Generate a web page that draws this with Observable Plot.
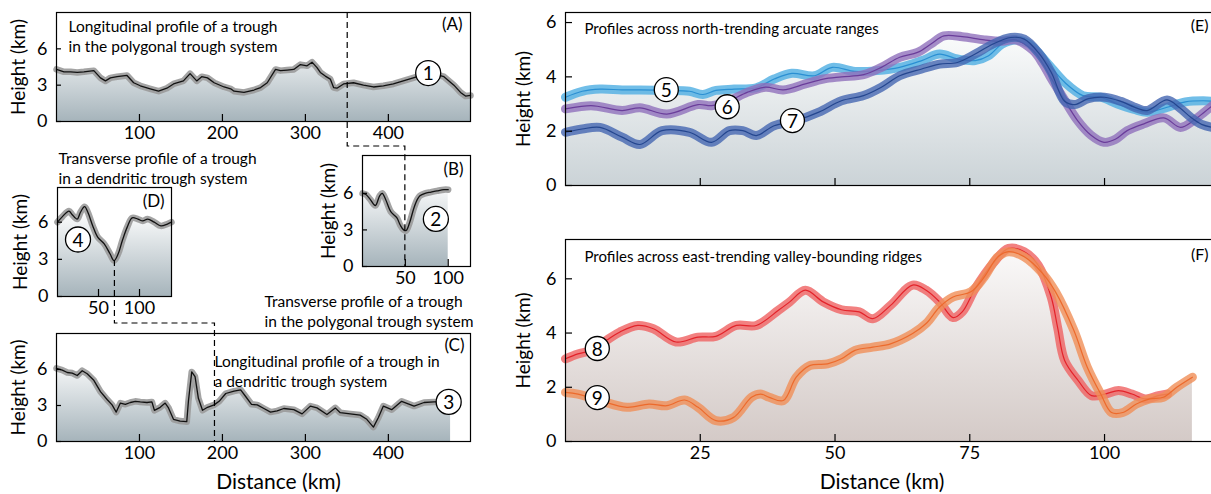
<!DOCTYPE html>
<html><head><meta charset="utf-8">
<script src="https://cdn.jsdelivr.net/npm/d3@7"></script>
<script src="https://cdn.jsdelivr.net/npm/@observablehq/plot@0.6"></script>
<style>
html,body{margin:0;padding:0;background:#fff;overflow:hidden;}
#fig{position:relative;width:1211px;height:494px;overflow:hidden;font-family:Lato,"Open Sans",sans-serif;}
</style></head><body><div id="fig"></div><script>
// ---------- data ----------
const distA = [0,9,17,25,33,45,53,59,65,73,85,93,101,113,123,133,141,153,161,169,175,182,190,202,210,214,226,238,246,254,264,270,278,286,294,302,308,314,318,324,330,334,338,346,358,370,382,394,406,418,435,451,467,479,487,493,499];
const heightA = [4.3,4.1,4.1,4.05,4.1,4.2,3.6,3.35,3.6,3.7,3.8,3.2,2.95,2.7,2.5,2.75,3.1,3.35,3.95,3.35,3.7,3.6,3.2,2.85,2.7,2.5,2.4,2.6,2.8,3.2,4.3,4.2,4.25,4.3,4.7,4.6,4.9,4.45,4.05,3.75,3.5,2.8,2.75,3.1,3.2,3.0,2.85,2.95,3.1,3.35,3.7,4.0,3.7,3.0,2.4,2.1,2.15];

const distB = [0,4,9,15,20,23,27,33,40,44,48,51,55,60,64,67,73,80,87,95,100];
const heightB = [6.0,5.9,5.5,5.0,5.8,6.0,5.5,4.5,4.0,3.4,3.0,2.95,3.6,4.8,5.5,5.8,6.0,6.1,6.2,6.3,6.3];

const distD = [0,6,14,18,24,28,33,37,43,49,57,64,69,74,79,85,91,98,104,110,118,126,134,139];
const heightD = [6.0,6.45,6.9,6.6,6.25,6.8,7.25,6.8,5.7,4.8,4.25,3.45,2.9,3.45,4.5,5.6,6.35,6.25,6.1,6.25,6.0,5.7,5.85,6.0];

const distC = [0,7,13,19,25,31,37,45,53,61,67,72,77,83,89,95,101,109,115,118,125,131,135,141,149,157,159,163,167,171,176,182,190,196,204,214,222,228,235,242,250,258,266,274,286,296,306,314,326,336,342,354,366,374,382,388,394,404,416,431,443,455,475];
const heightC = [6.1,5.95,5.75,5.7,5.5,5.9,5.65,5.1,4.15,3.5,3.05,2.45,3.2,3.1,3.25,3.35,3.3,3.25,3.3,2.6,2.85,3.2,2.8,1.85,1.7,1.65,3.35,5.8,5.4,3.6,2.6,2.85,3.05,3.35,4.0,4.2,4.3,3.75,3.1,3.05,2.75,2.45,2.55,2.75,2.65,2.3,2.95,2.8,2.25,2.8,2.4,2.3,2.2,1.85,1.2,2.0,2.95,2.65,3.35,2.95,3.25,3.3,3.3];

const dist5 = [0,3.1,6.4,10.5,13.8,18.8,23,25.5,27.9,31.3,35.4,38.7,42,46.2,49.5,53.7,57.8,62,66.1,69.4,72.7,76,78.5,81,83.5,86,89.3,92.6,96,99.3,102.4,105.5,107.9,111.6,115,118.3,120];
const height5 = [3.25,3.47,3.55,3.52,3.52,3.5,3.47,3.35,3.5,3.55,3.6,3.92,4.13,4.04,4.35,4.2,4.23,4.35,4.6,4.84,4.66,4.6,4.78,5.21,5.36,5.21,4.53,3.8,3.31,3.25,3.0,2.8,2.7,2.88,3.08,3.12,3.1];

const dist6 = [0,4.7,6.4,10.5,13.8,18.8,24.6,27.1,30.4,33.7,37.1,40.4,44.5,47.8,51.2,55.3,58.6,62,65.3,67.8,70.2,73.6,77.7,81,83.5,86.8,88.5,90,91.9,95,97.5,99.9,102,104.2,107.3,111,114.1,116.5,118.5,120];
const height6 = [2.82,2.94,2.9,2.76,2.86,2.63,2.98,2.94,3.12,3.43,3.62,3.52,3.74,3.92,4.0,4.08,4.35,4.72,4.9,5.21,5.51,5.48,5.36,5.31,5.36,4.96,4.5,3.98,3.37,2.39,1.85,1.59,1.7,2.02,2.27,2.49,2.14,2.39,2.7,2.94];

const dist7 = [0,3.1,6.4,10.5,13.8,17.9,23,27.1,30.4,32.9,35.4,38.7,42.8,47,51.2,55.3,58.6,62,66.1,69.4,72.7,76,79.3,82.6,85.1,87.7,90.1,92.6,94.5,97,100,103,106,107.9,111.6,114,116,118,120];
const height7 = [1.96,2.08,2.14,1.78,1.51,2.02,1.96,1.59,2.02,2.02,1.84,2.2,2.39,2.7,3.12,3.31,3.62,4.04,4.29,4.47,4.53,4.84,5.21,5.45,5.39,4.9,4.17,3.1,2.98,3.2,3.25,3.1,2.85,2.76,3.15,2.85,2.51,2.25,2.14];

const dist8 = [0,2.3,4.7,7.6,10.1,13.4,16.3,20.5,24.6,27.9,31.7,35.4,39.5,41.6,44.5,47.8,51.2,54.5,57,60.3,64.4,66.9,69.4,71.9,73.6,76,79.3,82.2,85.1,87.7,90.1,91.3,92.6,95.1,97.6,100.1,102.6,105.1,107.6,110,111.7];
const height8 = [3.05,3.23,3.36,3.73,4.04,4.28,4.16,3.67,3.85,3.88,4.28,4.28,4.84,5.15,5.58,5.15,4.86,4.78,4.53,5.02,5.77,5.58,5.15,4.57,4.78,5.64,6.57,7.12,7.0,6.5,5.33,4.2,2.99,2.25,1.69,1.75,1.88,1.75,1.57,1.69,1.75];

const dist9 = [0,2.3,6.4,11.4,15.5,18.8,22.1,24.6,27.9,31.2,34.5,36.2,37.8,40.4,42.8,45.3,48.6,51.2,53.7,57,60.3,64.4,66.9,69.4,71.9,75.2,77.7,80.2,82.2,85.1,88.5,90.9,94.3,96.8,99.3,101.3,103.4,105.9,108.4,110.9,113.4,116.3];
const height9 = [1.81,1.75,1.51,1.26,1.38,1.32,1.53,1.26,0.77,0.89,1.63,1.75,1.63,1.51,2.37,2.8,2.86,3.05,3.36,3.48,3.6,3.98,4.35,4.96,5.33,5.52,6.07,6.81,7.0,6.81,6.2,5.52,4.1,2.74,1.75,1.07,1.07,1.38,1.57,1.63,2.0,2.37];

const ticksLong = [100,200,300,400];
const ticksShort = [50,100];
const ticksY369 = [0,3,6];
const ticksEFx = [25,50,75,100];
const ticksEFy = [0,2,4,6];

const titleA = "Longitudinal profile of a trough\nin the polygonal trough system";
const titleB = "Transverse profile of a trough\nin the polygonal trough system";
const titleC = "Longitudinal profile of a trough in\na dendritic trough system";
const titleD = "Transverse profile of a trough\nin a dendritic trough system";
const titleE = "Profiles across north-trending arcuate ranges";
const titleF = "Profiles across east-trending valley-bounding ridges";
const yLabel = "Height (km)";
const xLabel = "Distance (km)";

// ---------- helpers ----------
const FONT = "Lato, 'Open Sans', sans-serif";
const rows = (xs, ys) => xs.map((x, i) => ({x, y: ys[i]}));
const fig = document.getElementById("fig");

function panel(cfg) {
  const fw = cfg.width - cfg.ml - cfg.mr, fh = cfg.height - cfg.mt - cfg.mb;
  const marks = [...cfg.marks,
    Plot.tickX(cfg.xTicks, {x: d => d, insetTop: fh - 7, stroke: "black", strokeWidth: 1.2}),
    Plot.tickY(cfg.yTicks, {y: d => d, insetRight: fw - (cfg.yTickLen || 5), stroke: "black", strokeWidth: 1.2}),
    Plot.axisY(cfg.yTicks, {tickSize: 0, tickPadding: cfg.yPad || 9, fontSize: 18, label: null}),
    Plot.text([yLabel], {frameAnchor: "left", dx: cfg.yLabelDx, rotate: -90, textAnchor: "middle", lineAnchor: "middle", fontSize: 19}),
    Plot.frame({stroke: "black", strokeWidth: 1.2}),
    ...(cfg.after || [])
  ];
  if (cfg.xLabels) marks.push(Plot.axisX(cfg.xTicks, {tickSize: 0, tickPadding: 5, fontSize: 18, label: null}));
  const svg = Plot.plot({
    width: cfg.width, height: cfg.height,
    marginLeft: cfg.ml, marginRight: cfg.mr, marginTop: cfg.mt, marginBottom: cfg.mb,
    x: {domain: cfg.xDomain, axis: null}, y: {domain: cfg.yDomain, axis: null},
    style: {background: "transparent", overflow: "visible", fontFamily: FONT, fontSize: "18px", color: "black"},
    marks
  });
  svg.style.position = "absolute";
  svg.style.left = cfg.left + "px";
  svg.style.top = cfg.top + "px";
  const ys = svg.scale("y");
  const g = cfg.grad;
  d3.select(svg).insert("defs", ":first-child").html(
    `<linearGradient id="${g.id}" gradientUnits="userSpaceOnUse" x1="0" x2="0" y1="${ys.apply(g.from)}" y2="${ys.apply(0)}">` +
    `<stop offset="0" stop-color="${g.c0}"/><stop offset="1" stop-color="${g.c1}"/></linearGradient>`);
  fig.appendChild(svg);
  svg._left = cfg.left; svg._top = cfg.top;
  return svg;
}

function greyProfile(data, gradId, curve) {
  return [
    Plot.areaY(data, {x: "x", y: "y", fill: `url(#${gradId})`, curve}),
    Plot.line(data, {x: "x", y: "y", stroke: "#9a9a9a", strokeOpacity: 0.9, strokeWidth: 6.5, curve}),
    Plot.line(data, {x: "x", y: "y", stroke: "#111", strokeWidth: 1.3, curve})
  ];
}
function colorProfile(data, band, line) {
  return [
    Plot.line(data, {x: "x", y: "y", stroke: band, strokeOpacity: 0.8, strokeWidth: 9, curve: "catmull-rom"}),
    Plot.line(data, {x: "x", y: "y", stroke: line, strokeWidth: 1.2, curve: "catmull-rom"})
  ];
}
function badge(x, y, t, r = 12.5) {
  return [
    Plot.dot([{x, y}], {x: "x", y: "y", r, fill: "white", stroke: "black", strokeWidth: 1.3}),
    Plot.text([{x, y, t}], {x: "x", y: "y", text: "t", fontSize: 19, dy: 1})
  ];
}
const tag = (s, dx, dy, fs = 17) => Plot.text([s], {frameAnchor: "top-right", dx, dy, lineAnchor: "top", textAnchor: "end", fontSize: fs});
const note = (s, anchor, dx, dy, fs = 15.5) => Plot.text([s], {frameAnchor: anchor, dx, dy, lineAnchor: "top", textAnchor: "start", fontSize: fs, lineHeight: 1.3});

const dataA = rows(distA, heightA), dataB = rows(distB, heightB), dataC = rows(distC, heightC), dataD = rows(distD, heightD);
const greyGrad = id => ({id, from: 7, c0: "#ffffff", c1: "#a6b4bb"});

// ---------- panels ----------
const pA = panel({left: 0, top: 0, width: 480, height: 145, ml: 56, mr: 10, mt: 12, mb: 24,
  xDomain: [0, 499], yDomain: [0, 9], xTicks: ticksLong, yTicks: ticksY369, xLabels: true, yLabelDx: -38,
  grad: greyGrad("gA"),
  marks: [...greyProfile(dataA, "gA"), ...badge(448, 4.0, "1")],
  after: [note(titleA, "top-left", 12, 5), tag("(A)", -8, 5)]
});
const pD = panel({left: 0, top: 150, width: 190, height: 170, ml: 57, mr: 19, mt: 37, mb: 24,
  xDomain: [0, 139], yDomain: [0, 8.8], xTicks: ticksShort, yTicks: ticksY369, xLabels: true, yLabelDx: -37,
  grad: greyGrad("gD"),
  marks: [...greyProfile(dataD, "gD", "catmull-rom"), ...badge(25, 4.6, "4")],
  after: [note(titleD, "top-left", 1, -38), tag("(D)", -7, 7)]
});
const pB = panel({left: 300, top: 145, width: 180, height: 150, ml: 62, mr: 10, mt: 10, mb: 29,
  xDomain: [0, 126], yDomain: [0, 9.1], xTicks: ticksShort, yTicks: ticksY369, xLabels: true, yLabelDx: -34,
  grad: greyGrad("gB"),
  marks: [...greyProfile(dataB, "gB", "catmull-rom"), ...badge(85.6, 3.9, "2")],
  after: [note(titleB, "bottom-left", -98, 26), tag("(B)", -7, 7)]
});
const pC = panel({left: 0, top: 320, width: 480, height: 174, ml: 56, mr: 10, mt: 13, mb: 53,
  xDomain: [0, 499], yDomain: [0, 9], xTicks: ticksLong, yTicks: ticksY369, xLabels: true, yLabelDx: -38,
  grad: greyGrad("gC"),
  marks: [...greyProfile(dataC, "gC"), ...badge(472.7, 3.3, "3")],
  after: [note(titleC, "top-left", 158, 19), tag("(C)", -6, 5),
    Plot.text([xLabel], {frameAnchor: "bottom", dx: 15, dy: 41, lineAnchor: "middle", fontSize: 21})]
});

const d5 = rows(dist5, height5), d6 = rows(dist6, height6), d7 = rows(dist7, height7);
const d8 = rows(dist8, height8), d9 = rows(dist9, height9);

const pE = panel({left: 500, top: 0, width: 714, height: 200, ml: 65, mr: 0, mt: 12, mb: 15,
  xDomain: [0, 120.4], yDomain: [0, 6.37], xTicks: ticksEFx, yTicks: ticksEFy, xLabels: false, yLabelDx: -42, yTickLen: 7,
  grad: {id: "gE", from: 5.6, c0: "#fbfcfc", c1: "#cbd3d7"},
  marks: [
    ...[d5, d6, d7].map(d => Plot.areaY(d, {x: "x", y: "y", fill: "url(#gE)", curve: "catmull-rom"})),
    ...colorProfile(d5, "#4eaee2", "#2a8fd2"),
    ...colorProfile(d6, "#9070bb", "#6a3d9a"),
    ...colorProfile(d7, "#4567b2", "#24468f"),
    ...badge(18.7, 3.53, "5", 12), ...badge(30, 2.9, "6", 12), ...badge(42.1, 2.39, "7", 12)
  ],
  after: [note(titleE, "top-left", 19, 8, 15), tag("(E)", -6, 7, 16)]
});
const pF = panel({left: 500, top: 230, width: 714, height: 264, ml: 65, mr: 0, mt: 9, mb: 53,
  xDomain: [0, 120.4], yDomain: [0, 7.45], xTicks: ticksEFx, yTicks: ticksEFy, xLabels: true, yLabelDx: -42, yTickLen: 7,
  grad: {id: "gF", from: 7.2, c0: "#fbfafa", c1: "#d4cac7"},
  marks: [
    ...[d8, d9].map(d => Plot.areaY(d, {x: "x", y: "y", fill: "url(#gF)", curve: "catmull-rom"})),
    ...colorProfile(d8, "#ef6262", "#e3232a"),
    ...colorProfile(d9, "#f08f58", "#ec6a2c"),
    ...badge(5.9, 3.43, "8", 12), ...badge(5.9, 1.62, "9", 12)
  ],
  after: [note(titleF, "top-left", 19, 9, 15), tag("(F)", -6, 9, 16),
    Plot.text([xLabel], {frameAnchor: "bottom", dx: -8, dy: 41, lineAnchor: "middle", fontSize: 21})]
});

// ---------- dashed connectors (positions from panel scales) ----------
const px = (p, v) => p._left + p.scale("x").apply(v);
const py = (p, v) => p._top + p.scale("y").apply(v);
const xa = px(pA, 351), xb = px(pB, 50), xd = px(pD, 70), xc = px(pC, 191);
const yTopA = pA._top + 12, yMidAB = 146, yBotB = py(pB, 0);
const yMinD = py(pD, 2.9), yMidDC = 323, yBotC = py(pC, 0);
const ov = d3.select(fig).append("svg").attr("width", 1211).attr("height", 494)
  .style("position", "absolute").style("left", "0px").style("top", "0px").style("pointer-events", "none");
const dash = pts => ov.append("path").attr("d", d3.line()(pts)).attr("fill", "none")
  .attr("stroke", "black").attr("stroke-width", 1.2).attr("stroke-dasharray", "6,4");
dash([[xa, yTopA], [xa, yMidAB], [xb, yMidAB], [xb, yBotB]]);
dash([[xd, yMinD], [xd, yMidDC], [xc, yMidDC], [xc, yBotC]]);
</script></body></html>
